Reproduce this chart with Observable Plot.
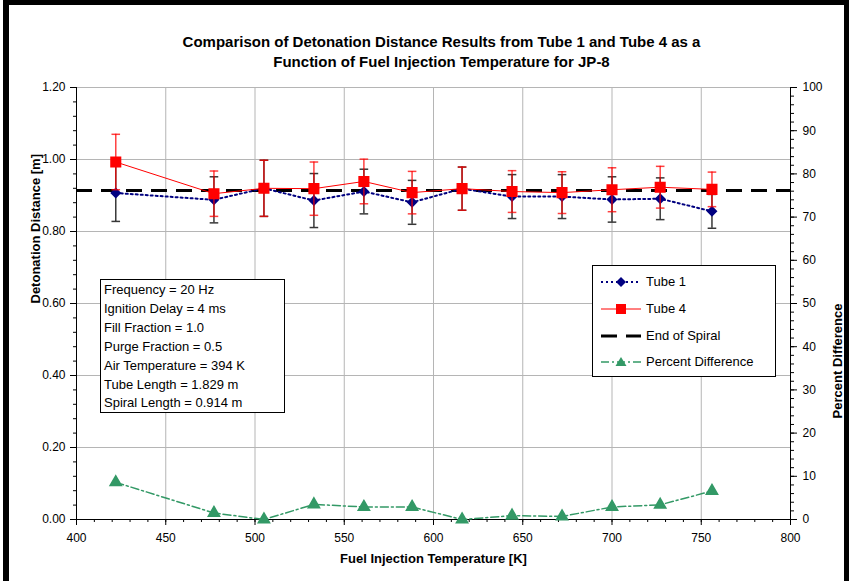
<!DOCTYPE html>
<html>
<head>
<meta charset="utf-8">
<script src="https://cdn.jsdelivr.net/npm/d3@7"></script>
<script src="https://cdn.jsdelivr.net/npm/@observablehq/plot@0.6"></script>
<style>
  body { margin: 0; background: white; font-family: "Liberation Sans", Arial, sans-serif; }
  #wrap { position: relative; width: 851px; height: 581px; background: white; overflow: hidden; }
  .bar { position: absolute; background: black; }
  #chart { position: absolute; left: 0; top: 0; }
  .box { position: absolute; background: white; border: 1px solid black; font-size: 13px; color: black; box-sizing: border-box; }
  #info div { position: absolute; left: 3px; white-space: nowrap; line-height: 15px; }
  #legend .row { position: absolute; left: 0; height: 20px; white-space: nowrap; }
  #legend .row svg { position: absolute; left: 6px; top: 0; }
  #legend .row span { position: absolute; left: 53px; top: 2px; line-height: 15px; }
</style>
</head>
<body>
<div id="wrap">
  <div id="chart"></div>
  <div class="bar" style="left:3px;top:0;width:6px;height:581px"></div>
  <div class="bar" style="left:3px;top:0;width:846px;height:5px"></div>
  <div class="bar" style="left:844px;top:0;width:5px;height:581px"></div>
  <div id="info" class="box" style="left:100px;top:279px;width:185px;height:134px"></div>
  <div id="legend" class="box" style="left:592px;top:265px;width:184px;height:112px"></div>
</div>
<script>
// ---- data ----
const temps   = [422, 477, 505, 533, 561, 588, 616, 644, 672, 700, 727, 756];
const tube1   = [0.907, 0.888, 0.920, 0.886, 0.911, 0.881, 0.919, 0.897, 0.897, 0.889, 0.891, 0.856];
const tube1Err= [0.079, 0.064, 0.078, 0.075, 0.062, 0.061, 0.060, 0.061, 0.061, 0.063, 0.058, 0.047];
const tube4   = [0.993, 0.905, 0.920, 0.919, 0.939, 0.908, 0.919, 0.911, 0.908, 0.916, 0.923, 0.917];
const tube4Err= [0.077, 0.063, 0.078, 0.074, 0.062, 0.059, 0.060, 0.058, 0.058, 0.061, 0.058, 0.048];
const pctDiff = [8.6, 1.5, 0.0, 3.5, 2.9, 2.9, 0.0, 0.9, 0.7, 2.9, 3.4, 6.6];
const spiralEnd = 0.914;

const xTicks   = [400, 450, 500, 550, 600, 650, 700, 750, 800];
const yTicks   = [0, 0.2, 0.4, 0.6, 0.8, 1.0, 1.2];
const pctTicks = [0, 10, 20, 30, 40, 50, 60, 70, 80, 90, 100];

const titleLines = ["Comparison of Detonation Distance Results from Tube 1 and Tube 4 as a",
                    "Function of Fuel Injection Temperature for JP-8"];
const xLabel = "Fuel Injection Temperature [K]";
const yLabel = "Detonation Distance [m]";
const y2Label = "Percent Difference";
const infoLines = ["Frequency = 20 Hz", "Ignition Delay = 4 ms", "Fill Fraction = 1.0",
  "Purge Fraction = 0.5", "Air Temperature = 394 K", "Tube Length = 1.829 m", "Spiral Length = 0.914 m"];
const seriesNames = ["Tube 1", "Tube 4", "End of Spiral", "Percent Difference"];

// ---- build ----
const yMax = 1.2, pctMax = 100;
const toY = p => p * yMax / pctMax;
const rows = temps.map((t, i) => ({t, t1: tube1[i], e1: tube1Err[i], t4: tube4[i], e4: tube4Err[i], p: toY(pctDiff[i])}));

const W = 851, H = 581, mL = 76, mR = 61, mT = 87, mB = 62;
const cap = 4.3 * (800 - 400) / (W - mL - mR); // cap half-width in data units

const navy = "#000080", red = "#ff0000", green = "#339966", grid = "#b5b5b5";

function errMarks(yk, ek, color, opacity) {
  const o = {stroke: color, strokeWidth: 1.5, strokeOpacity: opacity};
  return [
    Plot.ruleX(rows, {x: "t", y1: d => d[yk] - d[ek], y2: d => d[yk] + d[ek], ...o}),
    Plot.link(rows, {x1: d => d.t - cap, x2: d => d.t + cap, y1: d => d[yk] + d[ek], y2: d => d[yk] + d[ek], ...o}),
    Plot.link(rows, {x1: d => d.t - cap, x2: d => d.t + cap, y1: d => d[yk] - d[ek], y2: d => d[yk] - d[ek], ...o})
  ];
}

const blank = () => "";
const chart = Plot.plot({
  width: W, height: H,
  marginLeft: mL, marginRight: mR, marginTop: mT, marginBottom: mB,
  x: {domain: [400, 800]},
  y: {domain: [0, yMax]},
  style: {fontFamily: "'Liberation Sans', Arial, sans-serif", fontSize: "12px", color: "black", background: "transparent", overflow: "visible"},
  marks: [
    Plot.gridX(xTicks.slice(1, -1), {stroke: grid, strokeOpacity: 1, strokeWidth: 1}),
    Plot.gridY(yTicks.slice(1), {stroke: grid, strokeOpacity: 1, strokeWidth: 1}),
    // axes
    Plot.axisY(d3.range(0, yMax + 1e-6, 0.04), {tickSize: 3, tickFormat: blank, label: null}),
    Plot.axisY(yTicks, {tickSize: 6, tickPadding: 5, tickFormat: d3.format(".2f"), label: null, fontSize: 12}),
    Plot.axisY(d3.range(0, pctMax + 1e-6, 2).map(toY), {anchor: "right", tickSize: 3, tickFormat: blank, label: null}),
    Plot.axisY(pctTicks.map(toY), {anchor: "right", tickSize: 6, tickPadding: 6, tickFormat: d => String(Math.round(d / yMax * pctMax)), label: null, fontSize: 12}),
    Plot.axisX(d3.range(400, 801, 10), {tickSize: 3, tickFormat: blank, label: null}),
    Plot.axisX(xTicks, {tickSize: 6, tickPadding: 8, tickFormat: d => String(d), label: null, fontSize: 12}),
    Plot.ruleX([400, 800], {stroke: "black", strokeWidth: 1}),
    Plot.ruleY([0], {stroke: "black", strokeWidth: 1}),
    // end of spiral
    Plot.ruleY([spiralEnd], {stroke: "black", strokeWidth: 3, strokeDasharray: "16,9"}),
    // percent difference
    Plot.line(rows, {x: "t", y: "p", stroke: green, strokeWidth: 1.5, strokeDasharray: "8,3,2,3"}),
    Plot.dot(rows, {x: "t", y: "p", symbol: "triangle", r: 4.2, fill: green, stroke: green}),
    // tube 1
    Plot.line(rows, {x: "t", y: "t1", stroke: navy, strokeWidth: 2, strokeDasharray: "2,3"}),
    ...errMarks("t1", "e1", "#222", 0.9),
    Plot.dot(rows, {x: "t", y: "t1", symbol: "diamond2", r: 4, fill: navy, stroke: navy}),
    // tube 4
    Plot.line(rows, {x: "t", y: "t4", stroke: red, strokeWidth: 1}),
    ...errMarks("t4", "e4", red, 0.75),
    Plot.dot(rows, {x: "t", y: "t4", symbol: "square", r: 5.4, fill: red, stroke: red}),
    // texts
    Plot.text([titleLines[0]], {frameAnchor: "top", dx: 8, dy: -51, fontWeight: "bold", fontSize: 15}),
    Plot.text([titleLines[1]], {frameAnchor: "top", dx: 8, dy: -31, fontWeight: "bold", fontSize: 15}),
    Plot.text([xLabel], {frameAnchor: "bottom", dy: 43, fontWeight: "bold", fontSize: 13}),
    Plot.text([yLabel], {frameAnchor: "left", dx: -41, rotate: -90, fontWeight: "bold", fontSize: 13}),
    Plot.text([y2Label], {frameAnchor: "right", dx: 47, rotate: -90, fontWeight: "bold", fontSize: 13})
  ]
});
document.getElementById("chart").appendChild(chart);

// info box
const info = document.getElementById("info");
infoLines.forEach((s, i) => {
  const d = document.createElement("div");
  d.style.top = (2 + i * 18.9) + "px";
  d.textContent = s;
  info.appendChild(d);
});

// legend
const sw = [
  `<line x1="2" y1="10" x2="42" y2="10" stroke="${navy}" stroke-width="2" stroke-dasharray="2,3"/><path d="M22,5 L27,10 L22,15 L17,10 Z" fill="${navy}"/>`,
  `<line x1="2" y1="10" x2="42" y2="10" stroke="${red}" stroke-width="1"/><rect x="17" y="5" width="10" height="10" fill="${red}"/>`,
  `<line x1="2" y1="10" x2="42" y2="10" stroke="black" stroke-width="3" stroke-dasharray="16,9"/>`,
  `<line x1="2" y1="10" x2="42" y2="10" stroke="${green}" stroke-width="1.5" stroke-dasharray="8,3,2,3"/><path d="M22,5 L27.5,14 L16.5,14 Z" fill="${green}"/>`
];
const legend = document.getElementById("legend");
seriesNames.forEach((name, i) => {
  const r = document.createElement("div");
  r.className = "row";
  r.style.top = (6 + i * 26.8) + "px";
  r.innerHTML = `<svg width="46" height="20">${sw[i]}</svg><span>${name}</span>`;
  legend.appendChild(r);
});
</script>
</body>
</html>
